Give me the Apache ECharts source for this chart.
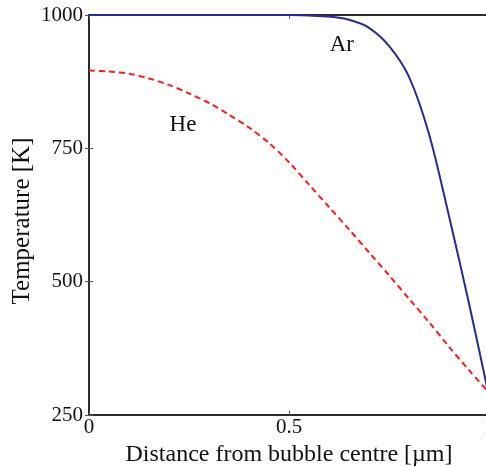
<!DOCTYPE html>
<html><head><meta charset="utf-8">
<script src="https://cdn.jsdelivr.net/npm/echarts@6/dist/echarts.min.js"></script>
<style>html,body{margin:0;padding:0;background:#fff}#c{width:486px;height:467px}</style>
</head><body><div id="c"></div>
<script>
const xs = [0, 0.05, 0.1, 0.15, 0.2, 0.25, 0.3, 0.35, 0.4, 0.45, 0.5, 0.55, 0.6, 0.65, 0.7, 0.75, 0.8, 0.85, 0.9, 0.95, 1.0];
const arT = [1000, 1000, 1000, 1000, 1000, 1000, 1000, 1000, 1000, 1000, 999.8, 999, 997, 991, 976, 942, 884, 777, 623, 459, 285];
const heT = [896, 894, 890, 881, 869, 853, 835, 813, 789, 760, 724, 682, 640, 598, 555, 512, 468, 424, 378, 334, 292];
const xTicks = [0, 0.5, 1];
const yTicks = [250, 500, 750, 1000];
const labels = [{name: 'Ar', x: 0.632, y: 944}, {name: 'He', x: 0.235, y: 794}];

const font = 'Liberation Serif';
const chart = echarts.init(document.getElementById('c'));
const tickFmt = v => String(v);
const axisLine = {show: true, lineStyle: {color: '#2b2b2b', width: 2}};
chart.setOption({
  animation: false,
  grid: {left: 89, top: 15, width: 400, height: 400, containLabel: false, outerBoundsMode: 'none'},
  xAxis: [{
    type: 'value', min: xTicks[0], max: xTicks[xTicks.length - 1], interval: 0.5,
    axisLine: axisLine, splitLine: {show: false},
    axisTick: {show: true, inside: true, length: 4, lineStyle: {color: '#555', width: 1}},
    axisLabel: {color: '#111', fontFamily: font, fontSize: 21, margin: 2, formatter: tickFmt},
    name: 'Distance from bubble centre [µm]', nameLocation: 'middle', nameGap: 24,
    nameTextStyle: {color: '#111', fontFamily: font, fontSize: 24}
  }, {
    type: 'value', position: 'top', min: 0, max: 1, interval: 0.5,
    axisLine: axisLine, splitLine: {show: false},
    axisTick: {show: true, inside: true, length: 4, lineStyle: {color: '#555'}},
    axisLabel: {show: false}
  }],
  yAxis: [{
    type: 'value', min: yTicks[0], max: yTicks[yTicks.length - 1], interval: 250,
    axisLine: axisLine, splitLine: {show: false},
    axisTick: {show: true, inside: true, length: 4, lineStyle: {color: '#555', width: 1}},
    axisLabel: {color: '#111', fontFamily: font, fontSize: 21, margin: 6, formatter: tickFmt},
    name: 'Temperature [K]', nameLocation: 'middle', nameGap: 54, nameMoveOverlap: false,
    nameTextStyle: {color: '#111', fontFamily: font, fontSize: 25, padding: [0, 12, 0, 0]}
  }, {
    type: 'value', position: 'right', min: 250, max: 1000, interval: 250,
    axisLine: axisLine, splitLine: {show: false},
    axisTick: {show: true, inside: true, length: 4, lineStyle: {color: '#555'}},
    axisLabel: {show: false}
  }],
  series: [{
    type: 'line', name: 'Ar', data: xs.map((x, i) => [x, arT[i]]),
    smooth: 0.3, showSymbol: false, symbol: 'none',
    lineStyle: {color: '#2a2a96', width: 2}, z: 3,
    markPoint: {
      symbol: 'circle', symbolSize: 0,
      label: {show: true, formatter: p => p.name, color: '#111', fontFamily: font, fontSize: 23, position: 'inside'},
      data: labels.map(l => ({name: l.name, coord: [l.x, l.y]}))
    }
  }, {
    type: 'line', name: 'He', data: xs.map((x, i) => [x, heT[i]]),
    smooth: 0.3, showSymbol: false, symbol: 'none',
    lineStyle: {color: '#ff1a1a', width: 2, type: [6, 4]}, z: 2
  }]
});
</script></body></html>
